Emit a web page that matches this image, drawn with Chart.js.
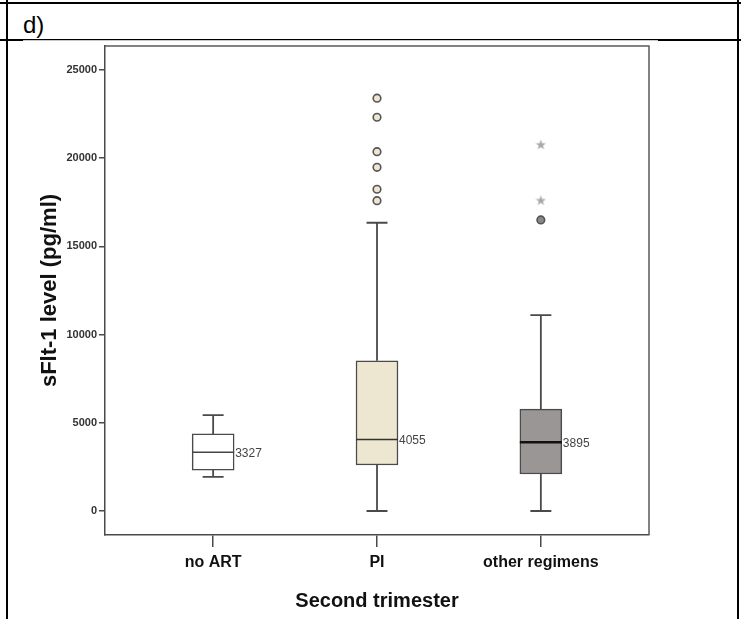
<!DOCTYPE html>
<html lang="en">
<head>
<meta charset="UTF-8">
<title>sFlt-1 level, second trimester</title>
<script src="https://cdn.jsdelivr.net/npm/chart.js"></script>
<style>
  html, body { margin: 0; padding: 0; background: #fff; }
  .page { position: relative; width: 741px; height: 619px; overflow: hidden; font-family: "Liberation Sans", Arial, sans-serif; }
  .rule { position: absolute; background: #000; }
  .sheet { position: absolute; left: 23px; top: 40px; width: 635px; height: 579px; background: #fff; border-top: 1px solid #c8c8c8; }
  .tag { position: absolute; left: 23px; top: 13px; font-size: 24px; line-height: 24px; color: #000; }
  #boxChart { position: absolute; left: 0; top: 0; }
</style>
</head>
<body>
<div class="page">
  <!-- table cell rules around the figure -->
  <div class="rule" style="left:0; top:2px; width:741px; height:2px"></div>
  <div class="rule" style="left:6px; top:0; width:2px; height:619px"></div>
  <div class="rule" style="left:737px; top:0; width:2px; height:619px"></div>
  <div class="rule" style="left:0; top:39px; width:741px; height:2px"></div>
  <div class="sheet"></div>
  <div class="tag">d)</div>
  <canvas id="boxChart" width="741" height="619"></canvas>
</div>

<script type="text/javascript">
  // data
  const categories = ['no ART', 'PI', 'other regimens'];
  const whiskerLow = [1930, 0, 0];
  const q1 = [2320, 2610, 2100];
  const medians = [3327, 4055, 3895];
  const q3 = [4370, 8520, 5780];
  const whiskerHigh = [5440, 16340, 11100];
  const circleOutliers = [[], [23400, 22320, 20370, 19480, 18240, 17590], [16500]];
  const starOutliers = [[], [], [20790, 17630]];
  const medianLabels = ['3327', '4055', '3895'];
  const yTicks = [0, 5000, 10000, 15000, 20000, 25000];

  // looks
  const boxFills = ['#ffffff', '#ede6d0', '#9b9696'];
  const outlierFills = ['#ffffff', '#ede6d0', '#8c8888'];
  const medianColors = ['#444444', '#333333', '#111111'];
  const medianWidths = [1.5, 1.5, 2.5];
  const lineColor = '#4a4a4a';
  const FONT = '"Liberation Sans", Arial, sans-serif';
  const CAP = 0.064; // half width of whisker caps, in x units

  function whiskerPoints() {
    const pts = [];
    categories.forEach(function (c, i) {
      const x = i + 1;
      pts.push({x: x, y: q3[i]}, {x: x, y: whiskerHigh[i]}, {x: x, y: null});
      pts.push({x: x - CAP, y: whiskerHigh[i]}, {x: x + CAP, y: whiskerHigh[i]}, {x: x, y: null});
      pts.push({x: x, y: q1[i]}, {x: x, y: whiskerLow[i]}, {x: x, y: null});
      pts.push({x: x - CAP, y: whiskerLow[i]}, {x: x + CAP, y: whiskerLow[i]}, {x: x, y: null});
    });
    return pts;
  }

  const circlePts = [];
  const circleColors = [];
  circleOutliers.forEach(function (vals, i) {
    vals.forEach(function (v) {
      circlePts.push({x: i + 1, y: v});
      circleColors.push(outlierFills[i]);
    });
  });

  const starPts = [];
  starOutliers.forEach(function (vals, i) {
    vals.forEach(function (v) { starPts.push({x: i + 1, y: v}); });
  });

  // small five-pointed star used as point style for extreme values
  function makeStar(size, color) {
    const c = document.createElement('canvas');
    c.width = size; c.height = size;
    const g = c.getContext('2d');
    g.fillStyle = color;
    g.beginPath();
    for (let k = 0; k < 10; k++) {
      const r = (k % 2) ? size * 0.2 : size * 0.5;
      const a = -Math.PI / 2 + k * Math.PI / 5;
      const px = size / 2 + r * Math.cos(a);
      const py = size / 2 + r * Math.sin(a) + size * 0.06;
      if (k === 0) g.moveTo(px, py); else g.lineTo(px, py);
    }
    g.closePath();
    g.fill();
    return c;
  }
  const starImg = makeStar(11, '#a8a8a8');

  // medians and their value labels, placed with the chart's own scales
  const medianPlugin = {
    id: 'medians',
    afterDatasetsDraw: function (chart) {
      const ctx = chart.ctx;
      const yScale = chart.scales.y;
      const meta = chart.getDatasetMeta(0);
      ctx.save();
      meta.data.forEach(function (bar, i) {
        const y = yScale.getPixelForValue(medians[i]);
        const half = bar.width / 2;
        ctx.strokeStyle = medianColors[i];
        ctx.lineWidth = medianWidths[i];
        ctx.beginPath();
        ctx.moveTo(bar.x - half, y);
        ctx.lineTo(bar.x + half, y);
        ctx.stroke();
        ctx.fillStyle = '#444';
        ctx.font = '12px ' + FONT;
        ctx.textAlign = 'left';
        ctx.textBaseline = 'middle';
        ctx.fillText(medianLabels[i], bar.x + half + 1, y + 1);
      });
      ctx.restore();
    }
  };

  // top and right sides of the plot frame
  const framePlugin = {
    id: 'frame',
    afterDraw: function (chart) {
      const a = chart.chartArea;
      const ctx = chart.ctx;
      ctx.save();
      ctx.strokeStyle = '#5a5a5a';
      ctx.lineWidth = 1.5;
      ctx.beginPath();
      ctx.moveTo(a.left, a.top);
      ctx.lineTo(a.right, a.top);
      ctx.lineTo(a.right, a.bottom);
      ctx.stroke();
      ctx.restore();
    }
  };

  const ctx = document.getElementById('boxChart').getContext('2d');
  const chart = new Chart(ctx, {
    type: 'bar',
    data: {
      datasets: [
        {
          type: 'bar',
          label: 'box',
          data: categories.map(function (c, i) { return {x: i + 1, y: [q1[i], q3[i]]}; }),
          backgroundColor: boxFills,
          borderColor: lineColor,
          borderWidth: 1.5,
          borderSkipped: false,
          barThickness: 42,
          order: 2
        },
        {
          type: 'line',
          label: 'whiskers',
          data: whiskerPoints(),
          borderColor: lineColor,
          borderWidth: 1.8,
          pointRadius: 0,
          spanGaps: false,
          fill: false,
          order: 3
        },
        {
          type: 'scatter',
          label: 'outliers',
          data: circlePts,
          pointStyle: 'circle',
          pointRadius: 3.8,
          backgroundColor: circleColors,
          borderColor: '#555',
          borderWidth: 1.6,
          order: 1
        },
        {
          type: 'scatter',
          label: 'extremes',
          data: starPts,
          pointStyle: starImg,
          pointRadius: 5,
          order: 1
        }
      ]
    },
    options: {
      responsive: false,
      animation: false,
      devicePixelRatio: 1,
      layout: { padding: { top: 46, right: 92, bottom: 0, left: 0 } },
      plugins: {
        legend: { display: false },
        tooltip: { enabled: false }
      },
      scales: {
        x: {
          type: 'linear',
          min: 0.34,
          max: 3.66,
          offset: false,
          afterBuildTicks: function (scale) {
            scale.ticks = categories.map(function (c, i) { return {value: i + 1}; });
          },
          afterFit: function (scale) { scale.height = 84; },
          ticks: {
            callback: function (value) { return categories[Math.round(value) - 1]; },
            color: '#111',
            font: { family: FONT, size: 16, weight: 'bold' },
            padding: 6,
            maxRotation: 0
          },
          grid: { offset: false, drawOnChartArea: false, drawTicks: true, tickLength: 12, color: lineColor, lineWidth: 1.5 },
          border: { color: lineColor, width: 1.5 },
          title: {
            display: true,
            text: 'Second trimester',
            color: '#111',
            font: { family: FONT, size: 20, weight: 'bold' },
            padding: { top: 0, bottom: 6 }
          }
        },
        y: {
          min: -1360,
          max: 26360,
          afterBuildTicks: function (scale) {
            scale.ticks = yTicks.map(function (v) { return {value: v}; });
          },
          afterFit: function (scale) { scale.width = 105; },
          ticks: {
            callback: function (value) { return String(value); },
            color: '#333',
            font: { family: FONT, size: 11, weight: 'bold' },
            padding: 2
          },
          grid: { drawOnChartArea: false, drawTicks: true, tickLength: 6, color: lineColor, lineWidth: 1.5 },
          border: { color: lineColor, width: 1.5 },
          title: {
            display: true,
            text: 'sFlt-1 level (pg/ml)',
            color: '#111',
            font: { family: FONT, size: 22, weight: 'bold' },
            padding: { top: 37, bottom: 0 }
          }
        }
      }
    },
    plugins: [medianPlugin, framePlugin]
  });
</script>
</body>
</html>
